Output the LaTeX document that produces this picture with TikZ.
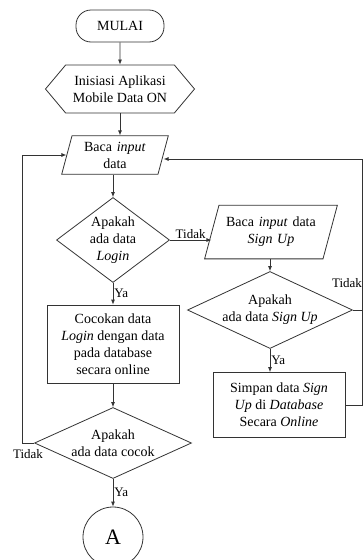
\documentclass[tikz,border=0pt]{standalone}
\usepackage{fontspec}
\setmainfont{Liberation Serif}
\usetikzlibrary{arrows.meta,shapes.geometric,shapes.symbols,positioning}

\tikzset{
  base/.style={draw=black!80, line width=0.8pt, align=center, inner sep=1pt,
    font=\fontsize{14}{17}\selectfont},
  shapetext/.style={align=center, inner sep=0pt, font=\fontsize{14}{17}\selectfont},
  startstop/.style={base, rectangle, rounded corners=15pt,
    minimum width=88pt, minimum height=32pt},
  prep/.style={base, signal, signal to=west and east, signal pointer angle=100,
    minimum width=149pt, minimum height=48pt},
  io/.style={base, trapezium, trapezium left angle=75, trapezium right angle=105,
    inner xsep=0pt},
  decision/.style={base, diamond, inner sep=0pt},
  process/.style={base, rectangle},
  connector/.style={base, circle, minimum size=60pt, font=\fontsize{22}{24}\selectfont},
  arr/.style={draw=black!80, line width=0.8pt, -{Latex[length=5pt,width=4pt]}},
  line/.style={draw=black!80, line width=0.8pt},
  lbl/.style={font=\fontsize{13}{15}\selectfont, inner sep=1pt}
}

\begin{document}
\begin{tikzpicture}[x=1pt,y=-1pt]
  \clip (0,0) rectangle (364,560);
  % main column
  \node[startstop] (mulai) at (120,26) {MULAI};
  \node[prep] (init) at (120,89) {Inisiasi Aplikasi\\Mobile Data ON};
  \node[io, text width=86pt, inner ysep=6pt] (baca) at (115,155)
    {Baca \textit{input}\\data};
  \node[decision, minimum width=113pt, minimum height=85pt,
    label={[shapetext]center:Apakah\\ada data\\\textit{Login}}] (login) at (113,240) {};
  \node[process, minimum width=132pt, minimum height=78pt] (cocok) at (113,344)
    {Cocokan data\\\textit{Login} dengan data\\pada database\\secara online};
  \node[decision, minimum width=157pt, minimum height=71pt,
    label={[shapetext]center:Apakah\\ada data cocok}] (cocokq) at (113,443) {};
  \node[connector] (a) at (113,537) {A};
  % sign up column
  \node[io, text width=104pt, inner ysep=12pt] (bacasu) at (271,232)
    {Baca \textit{input} data\\\textit{Sign Up}};
  \node[decision, minimum width=165pt, minimum height=77pt,
    label={[shapetext]center:Apakah\\ada data \textit{Sign Up}}] (signup) at (270,310) {};
  \node[process, minimum width=132pt, minimum height=65pt] (simpan) at (279,405)
    {Simpan data \textit{Sign}\\\textit{Up} di \textit{Database}\\Secara \textit{Online}};
  \coordinate (rtop) at (362,159);
  \coordinate (lbot) at (22,443);

  % connectors
  \draw[arr] (mulai) -- (init);
  \draw[arr] (init.south) -- (init.south |- baca.north);
  \draw[arr] (login.north |- baca.south) -- (login.north);
  \draw[arr] (login.east) -- node[lbl, above] {Tidak} (login.east -| bacasu.west);
  \draw[arr] (login.south) -- node[lbl, right] {Ya} (cocok.north);
  \draw[arr] (cocok.south) -- (cocokq.north);
  \draw[arr] (cocokq.south) -- node[lbl, right] {Ya} (a.north);
  \draw[arr] (cocokq.west) -- (lbot) |- (baca.west);
  \node[lbl] (tidak3) at (28,454) {Tidak};
  \draw[arr] (bacasu.south -| signup.north) -- (signup.north);
  \draw[arr] (signup.south) -- node[lbl, right] {Ya} (signup.south |- simpan.north);
  \draw[line] (signup.east) -- (signup.east -| rtop);
  \node[lbl] (tidak2) at (347,283) {Tidak};
  \draw[arr] (simpan.east) -| (rtop) -- (rtop -| baca.east);
\end{tikzpicture}
\end{document}
